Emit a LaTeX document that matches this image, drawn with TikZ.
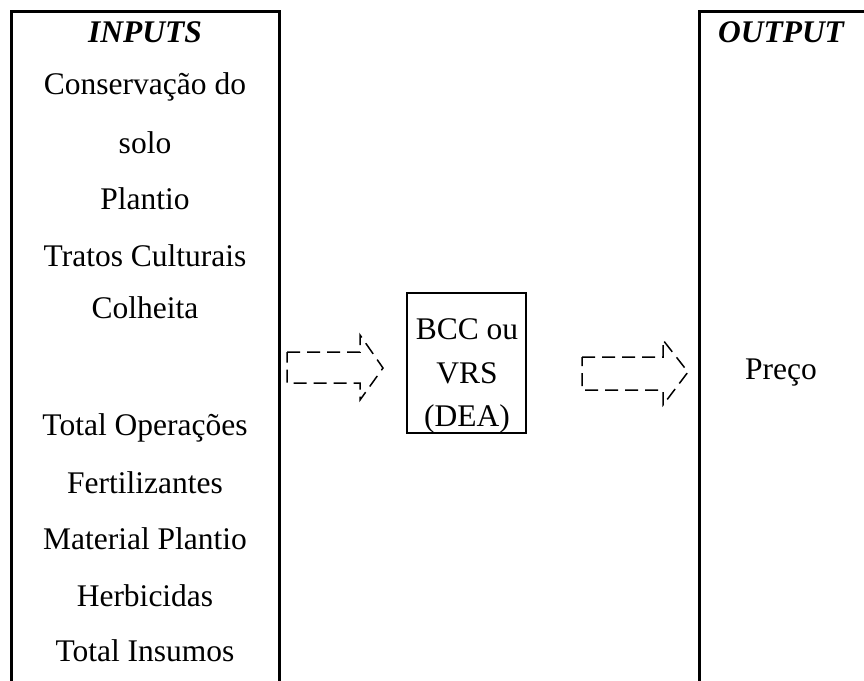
\documentclass[tikz,border=0pt]{standalone}
\usepackage{fontspec}
\setmainfont{Liberation Serif}
\begin{document}
\begin{tikzpicture}[x=1pt,y=-1pt,
  lbl/.style={inner sep=0pt,anchor=center,font=\fontsize{31.5}{36}\selectfont},
  hdr/.style={lbl,font=\fontsize{31.5}{36}\selectfont\bfseries\itshape},
  boxline/.style={line width=3pt},
  darrow/.style={line width=1.5pt,dash pattern=on 13pt off 7pt,line join=miter}]
\useasboundingbox (0,0) rectangle (864,680);
\clip (0,0) rectangle (864,680);
\fill[white] (0,0) rectangle (864,680);
% left box
\draw[boxline] (11,700) -- (11,11) -- (279,11) -- (279,700);
% right box
\draw[boxline] (699,700) -- (699,11) -- (900,11);
% middle box
\node[draw,line width=2.5pt,minimum width=119pt,minimum height=140pt,inner sep=0pt] (mid) at (466.5,363) {};
% texts
\node[hdr] (inp) at (145,32) {INPUTS};
\node[lbl] (t1) at (145,87) {Conservação do};
\node[lbl] (t2) at (145,143) {solo};
\node[lbl] (t3) at (145,199) {Plantio};
\node[lbl] (t4) at (145,256) {Tratos Culturais};
\node[lbl] (t5) at (145,308) {Colheita};
\node[lbl] (t6) at (145,428) {Total Operações};
\node[lbl] (t7) at (145,483) {Fertilizantes};
\node[lbl] (t8) at (145,539) {Material Plantio};
\node[lbl] (t9) at (145,596) {Herbicidas};
\node[lbl] (t10) at (145,651) {Total Insumos};
\node[lbl] (m1) at (467,329) {BCC ou};
\node[lbl] (m2) at (467,373) {VRS};
\node[lbl] (m3) at (467,419) {(DEA)};
\node[hdr] (out) at (781,32) {OUTPUT};
\node[lbl] (p) at (781,373) {Preço};
% arrows
\draw[darrow] (287,352) -- (360,352) -- (360,335) -- (383,368) -- (360,400) -- (360,383) -- (287,383) -- cycle;
\draw[darrow] (582,357) -- (663,357) -- (663,340) -- (688,372) -- (663,405) -- (663,390) -- (582,390) -- cycle;
\end{tikzpicture}
\end{document}
